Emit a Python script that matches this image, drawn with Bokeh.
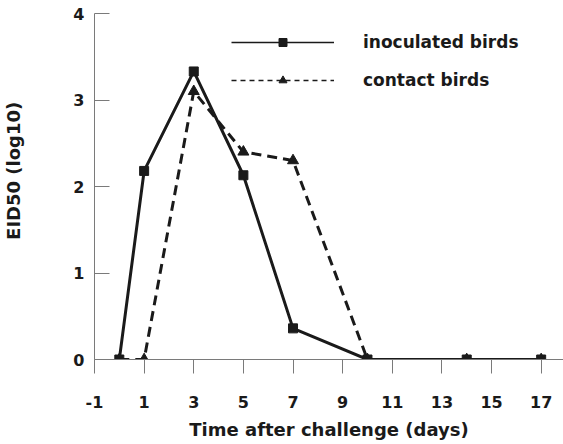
from bokeh.plotting import figure
from bokeh.models import Range1d, FixedTicker, Legend, LegendItem, ColumnDataSource
from bokeh.embed import file_html
from bokeh.resources import INLINE

days = [0, 1, 3, 5, 7, 10, 14, 17]
inoculated = [0, 2.18, 3.33, 2.13, 0.36, 0, 0, 0]
contact = [0, 0, 3.10, 2.40, 2.30, 0, 0, 0]
x_ticks = [-1, 1, 3, 5, 7, 9, 11, 13, 15, 17]
y_ticks = [0, 1, 2, 3, 4]
series_names = ["inoculated birds", "contact birds"]

FONT = "DejaVu Sans"
INK = "#1a1a1a"
AXIS = "#7a7a7a"

p = figure(width=563, height=444, output_backend="svg", toolbar_location=None,
           x_range=Range1d(-1, 17.9), y_range=Range1d(0, 4),
           min_border_left=93, min_border_right=0, min_border_top=13, min_border_bottom=85)
p.outline_line_color = None
p.xgrid.visible = False
p.ygrid.visible = False
p.background_fill_color = "white"
p.border_fill_color = "white"

for ax in (p.xaxis[0], p.yaxis[0]):
    ax.axis_line_color = AXIS
    ax.axis_line_width = 1
    ax.major_tick_line_color = AXIS
    ax.minor_tick_line_color = None
    ax.major_label_text_font = FONT
    ax.major_label_text_font_style = "bold"
    ax.major_label_text_font_size = "16px"
    ax.major_label_text_color = INK
    ax.axis_label_text_font = FONT
    ax.axis_label_text_font_style = "bold"
    ax.axis_label_text_font_size = "18px"
    ax.axis_label_text_color = INK

p.xaxis.ticker = FixedTicker(ticks=x_ticks)
p.xaxis.major_label_overrides = {t: str(t) for t in x_ticks}
p.xaxis.major_tick_out = 14
p.xaxis.major_tick_in = 0
p.xaxis.major_label_standoff = 22
p.xaxis.axis_label = "Time after challenge (days)"
p.xaxis.axis_label_standoff = 8

p.yaxis.ticker = FixedTicker(ticks=y_ticks)
p.yaxis.major_tick_out = 0
p.yaxis.major_tick_in = 15
p.yaxis.major_label_standoff = 10
p.yaxis.axis_label = "\u00a0" * 6 + "EID50  (log10)"
p.yaxis.axis_label_standoff = 46

src = ColumnDataSource(dict(days=days, inoculated=inoculated, contact=contact))

p.line("days", "contact", source=src, line_color=INK, line_width=3, line_dash="10 6")
p.scatter("days", "contact", source=src, marker="triangle", size=11,
          fill_color=INK, line_color=INK)
p.line("days", "inoculated", source=src, line_color=INK, line_width=3)
p.scatter("days", "inoculated", source=src, marker="square", size=9,
          fill_color=INK, line_color=INK)

# legend-only renderers (thin lines as in the original key); NaN data draws nothing on the plot
nan = float("nan")
key = ColumnDataSource(dict(x=[nan], y=[nan]))
l1 = p.line("x", "y", source=key, line_color=INK, line_width=1.3)
m1 = p.scatter("x", "y", source=key, marker="square", size=7, fill_color=INK, line_color=INK)
l2 = p.line("x", "y", source=key, line_color=INK, line_width=1.3, line_dash="5 4")
m2 = p.scatter("x", "y", source=key, marker="triangle", size=9, fill_color=INK, line_color=INK)

legend = Legend(items=[LegendItem(label=series_names[0], renderers=[l1, m1]),
                       LegendItem(label=series_names[1], renderers=[l2, m2])],
                location=(137, 269), padding=0, margin=0, spacing=18,
                glyph_width=103, glyph_height=20, label_standoff=29,
                label_text_font=FONT, label_text_font_style="bold",
                label_text_font_size="17px", label_text_color=INK,
                border_line_color=None, background_fill_alpha=0)
p.add_layout(legend)

open("out.html", "w").write(file_html(p, INLINE))
